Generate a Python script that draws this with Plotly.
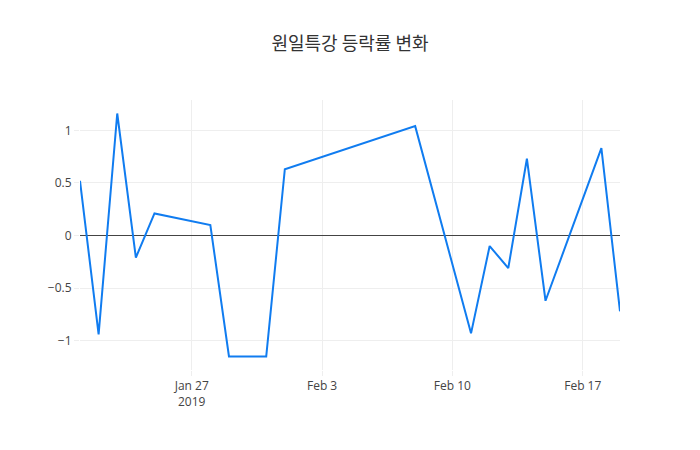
import plotly.graph_objects as go

dates = ["2019-01-21", "2019-01-22", "2019-01-23", "2019-01-24", "2019-01-25",
         "2019-01-28", "2019-01-29", "2019-01-30", "2019-01-31", "2019-02-01",
         "2019-02-08", "2019-02-11", "2019-02-12", "2019-02-13", "2019-02-14",
         "2019-02-15", "2019-02-18", "2019-02-19"]
change_rate = [0.52, -0.94, 1.16, -0.21, 0.21,
               0.10, -1.15, -1.15, -1.15, 0.63,
               1.04, -0.93, -0.10, -0.31, 0.73,
               -0.62, 0.83, -0.72]

fig = go.Figure(go.Scatter(x=dates, y=change_rate, mode="lines",
                           line=dict(color="rgb(16,124,240)", width=2)))

fig.update_layout(
    template="none",
    width=700, height=450,
    title=dict(text="원일특강 등락률 변화", x=0.5, xanchor="center",
               font=dict(family="Noto Sans CJK KR, Open Sans", size=18, color="#333")),
    font=dict(family="Open Sans, Noto Sans CJK KR", size=12, color="#444"),
    margin=dict(l=80, r=80, t=100, b=80),
    paper_bgcolor="white", plot_bgcolor="white",
    showlegend=False,
)
fig.update_xaxes(showgrid=True, gridcolor="#eee", zeroline=False,
                 ticks="outside", tickcolor="#eee", ticklen=5,
                 tickvals=["2019-01-27", "2019-02-03", "2019-02-10", "2019-02-17"],
                 ticktext=["Jan 27<br>2019", "Feb 3", "Feb 10", "Feb 17"])
fig.update_yaxes(showgrid=True, gridcolor="#eee", zeroline=True, zerolinecolor="#444",
                 zerolinewidth=1, ticks="outside", tickcolor="#eee", ticklen=5,
                 tickvals=[-1, -0.5, 0, 0.5, 1], ticktext=["−1", "−0.5", "0", "0.5", "1"])

fig.write_html("out.html")
